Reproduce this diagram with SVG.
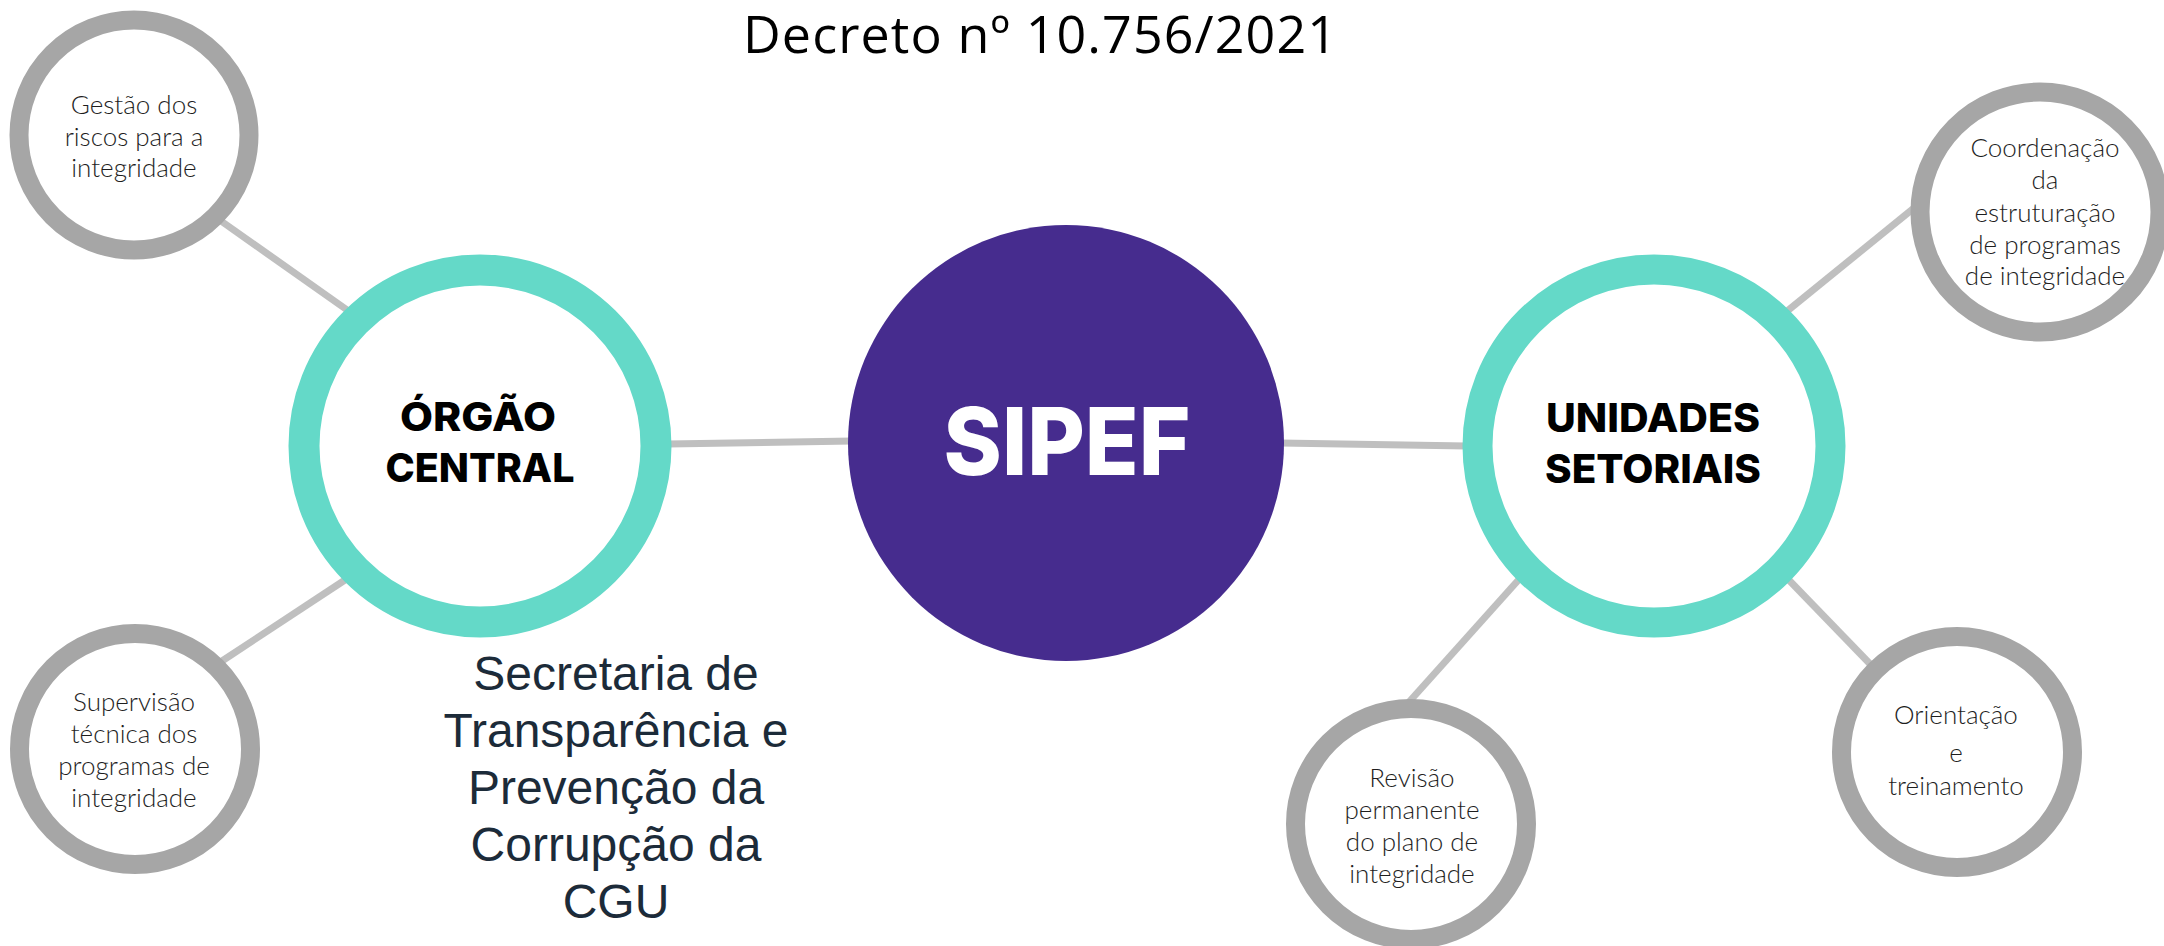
<svg xmlns="http://www.w3.org/2000/svg" width="2164" height="946" viewBox="0 0 2164 946">
<style>
.bg{fill:#ffffff}
.conn{stroke:#bfbfbf;stroke-width:7;stroke-linecap:butt;fill:none}
.leaf{fill:#ffffff;stroke:#a6a6a6;stroke-width:19}
.hub{fill:#ffffff;stroke:#64d9c8;stroke-width:30}
.core{fill:#462c8e}
.lt{font-family:Lato,"Open Sans",sans-serif;font-weight:300;font-size:26px;fill:#1e1e1e;text-anchor:middle}
.bd{font-family:Inter,"Open Sans",sans-serif;font-weight:800;font-size:40px;fill:#000000;text-anchor:middle}
.title{font-family:"Open Sans","Noto Sans",sans-serif;font-weight:400;font-size:52px;fill:#000000;text-anchor:middle}
.sec{font-family:"Liberation Sans",Arial,sans-serif;font-size:48px;fill:#1c2b39;text-anchor:middle}
</style>
<rect class="bg" x="0" y="0" width="2164" height="946"/>
<g id="connectors">
<line class="conn" x1="221" y1="221" x2="350" y2="312"/>
<line class="conn" x1="222" y1="661" x2="348" y2="578"/>
<line class="conn" x1="668" y1="444" x2="852" y2="441"/>
<line class="conn" x1="1280" y1="443" x2="1467" y2="446"/>
<line class="conn" x1="1786" y1="312" x2="1914" y2="208"/>
<line class="conn" x1="1522" y1="576" x2="1409" y2="702"/>
<line class="conn" x1="1785" y1="576" x2="1873" y2="667"/>
</g>
<text id="title" class="title" x="1040" y="53" textLength="594" lengthAdjust="spacing">Decreto nº 10.756/2021</text>
<g id="gestao">
<circle class="leaf" cx="134" cy="135" r="115"/>
<text class="lt" x="134" y="114">Gestão dos</text>
<text class="lt" x="134" y="146">riscos para a</text>
<text class="lt" x="134" y="177">integridade</text>
</g>
<g id="supervisao">
<circle class="leaf" cx="135" cy="749" r="115.5"/>
<text class="lt" x="134" y="711">Supervisão</text>
<text class="lt" x="134" y="743">técnica dos</text>
<text class="lt" x="134" y="775">programas de</text>
<text class="lt" x="134" y="807">integridade</text>
</g>
<g id="orgao-central">
<circle class="hub" cx="480" cy="446" r="176" style="stroke-width:31"/>
<text class="bd" x="478" y="431" textLength="156" lengthAdjust="spacingAndGlyphs">ÓRGÃO</text>
<text class="bd" x="480" y="482" textLength="189" lengthAdjust="spacingAndGlyphs">CENTRAL</text>
</g>
<g id="secretaria">
<text class="sec" x="616" y="690">Secretaria de</text>
<text class="sec" x="616" y="747">Transparência e</text>
<text class="sec" x="616" y="804">Prevenção da</text>
<text class="sec" x="616" y="861">Corrupção da</text>
<text class="sec" x="616" y="918">CGU</text>
</g>
<g id="sipef">
<circle class="core" cx="1066" cy="443" r="218"/>
<text x="1067" y="475" text-anchor="middle" font-family="Inter,'Open Sans',sans-serif" font-weight="800" font-size="94" fill="#ffffff" textLength="247" lengthAdjust="spacingAndGlyphs">SIPEF</text>
</g>
<g id="unidades-setoriais">
<circle class="hub" cx="1654" cy="446" r="176.5"/>
<text class="bd" x="1653" y="432" textLength="214" lengthAdjust="spacingAndGlyphs">UNIDADES</text>
<text class="bd" x="1653" y="483" textLength="216" lengthAdjust="spacingAndGlyphs">SETORIAIS</text>
</g>
<g id="coordenacao">
<circle class="leaf" cx="2040" cy="212" r="120"/>
<text class="lt" x="2045" y="157">Coordenação</text>
<text class="lt" x="2045" y="189">da</text>
<text class="lt" x="2045" y="222">estruturação</text>
<text class="lt" x="2045" y="254">de programas</text>
<text class="lt" x="2045" y="285">de integridade</text>
</g>
<g id="revisao">
<circle class="leaf" cx="1411" cy="824" r="115.5"/>
<text class="lt" x="1412" y="787">Revisão</text>
<text class="lt" x="1412" y="819">permanente</text>
<text class="lt" x="1412" y="851">do plano de</text>
<text class="lt" x="1412" y="883">integridade</text>
</g>
<g id="orientacao">
<circle class="leaf" cx="1957" cy="752" r="115.5"/>
<text class="lt" x="1956" y="724">Orientação</text>
<text class="lt" x="1956" y="762">e</text>
<text class="lt" x="1956" y="795">treinamento</text>
</g>
</svg>
